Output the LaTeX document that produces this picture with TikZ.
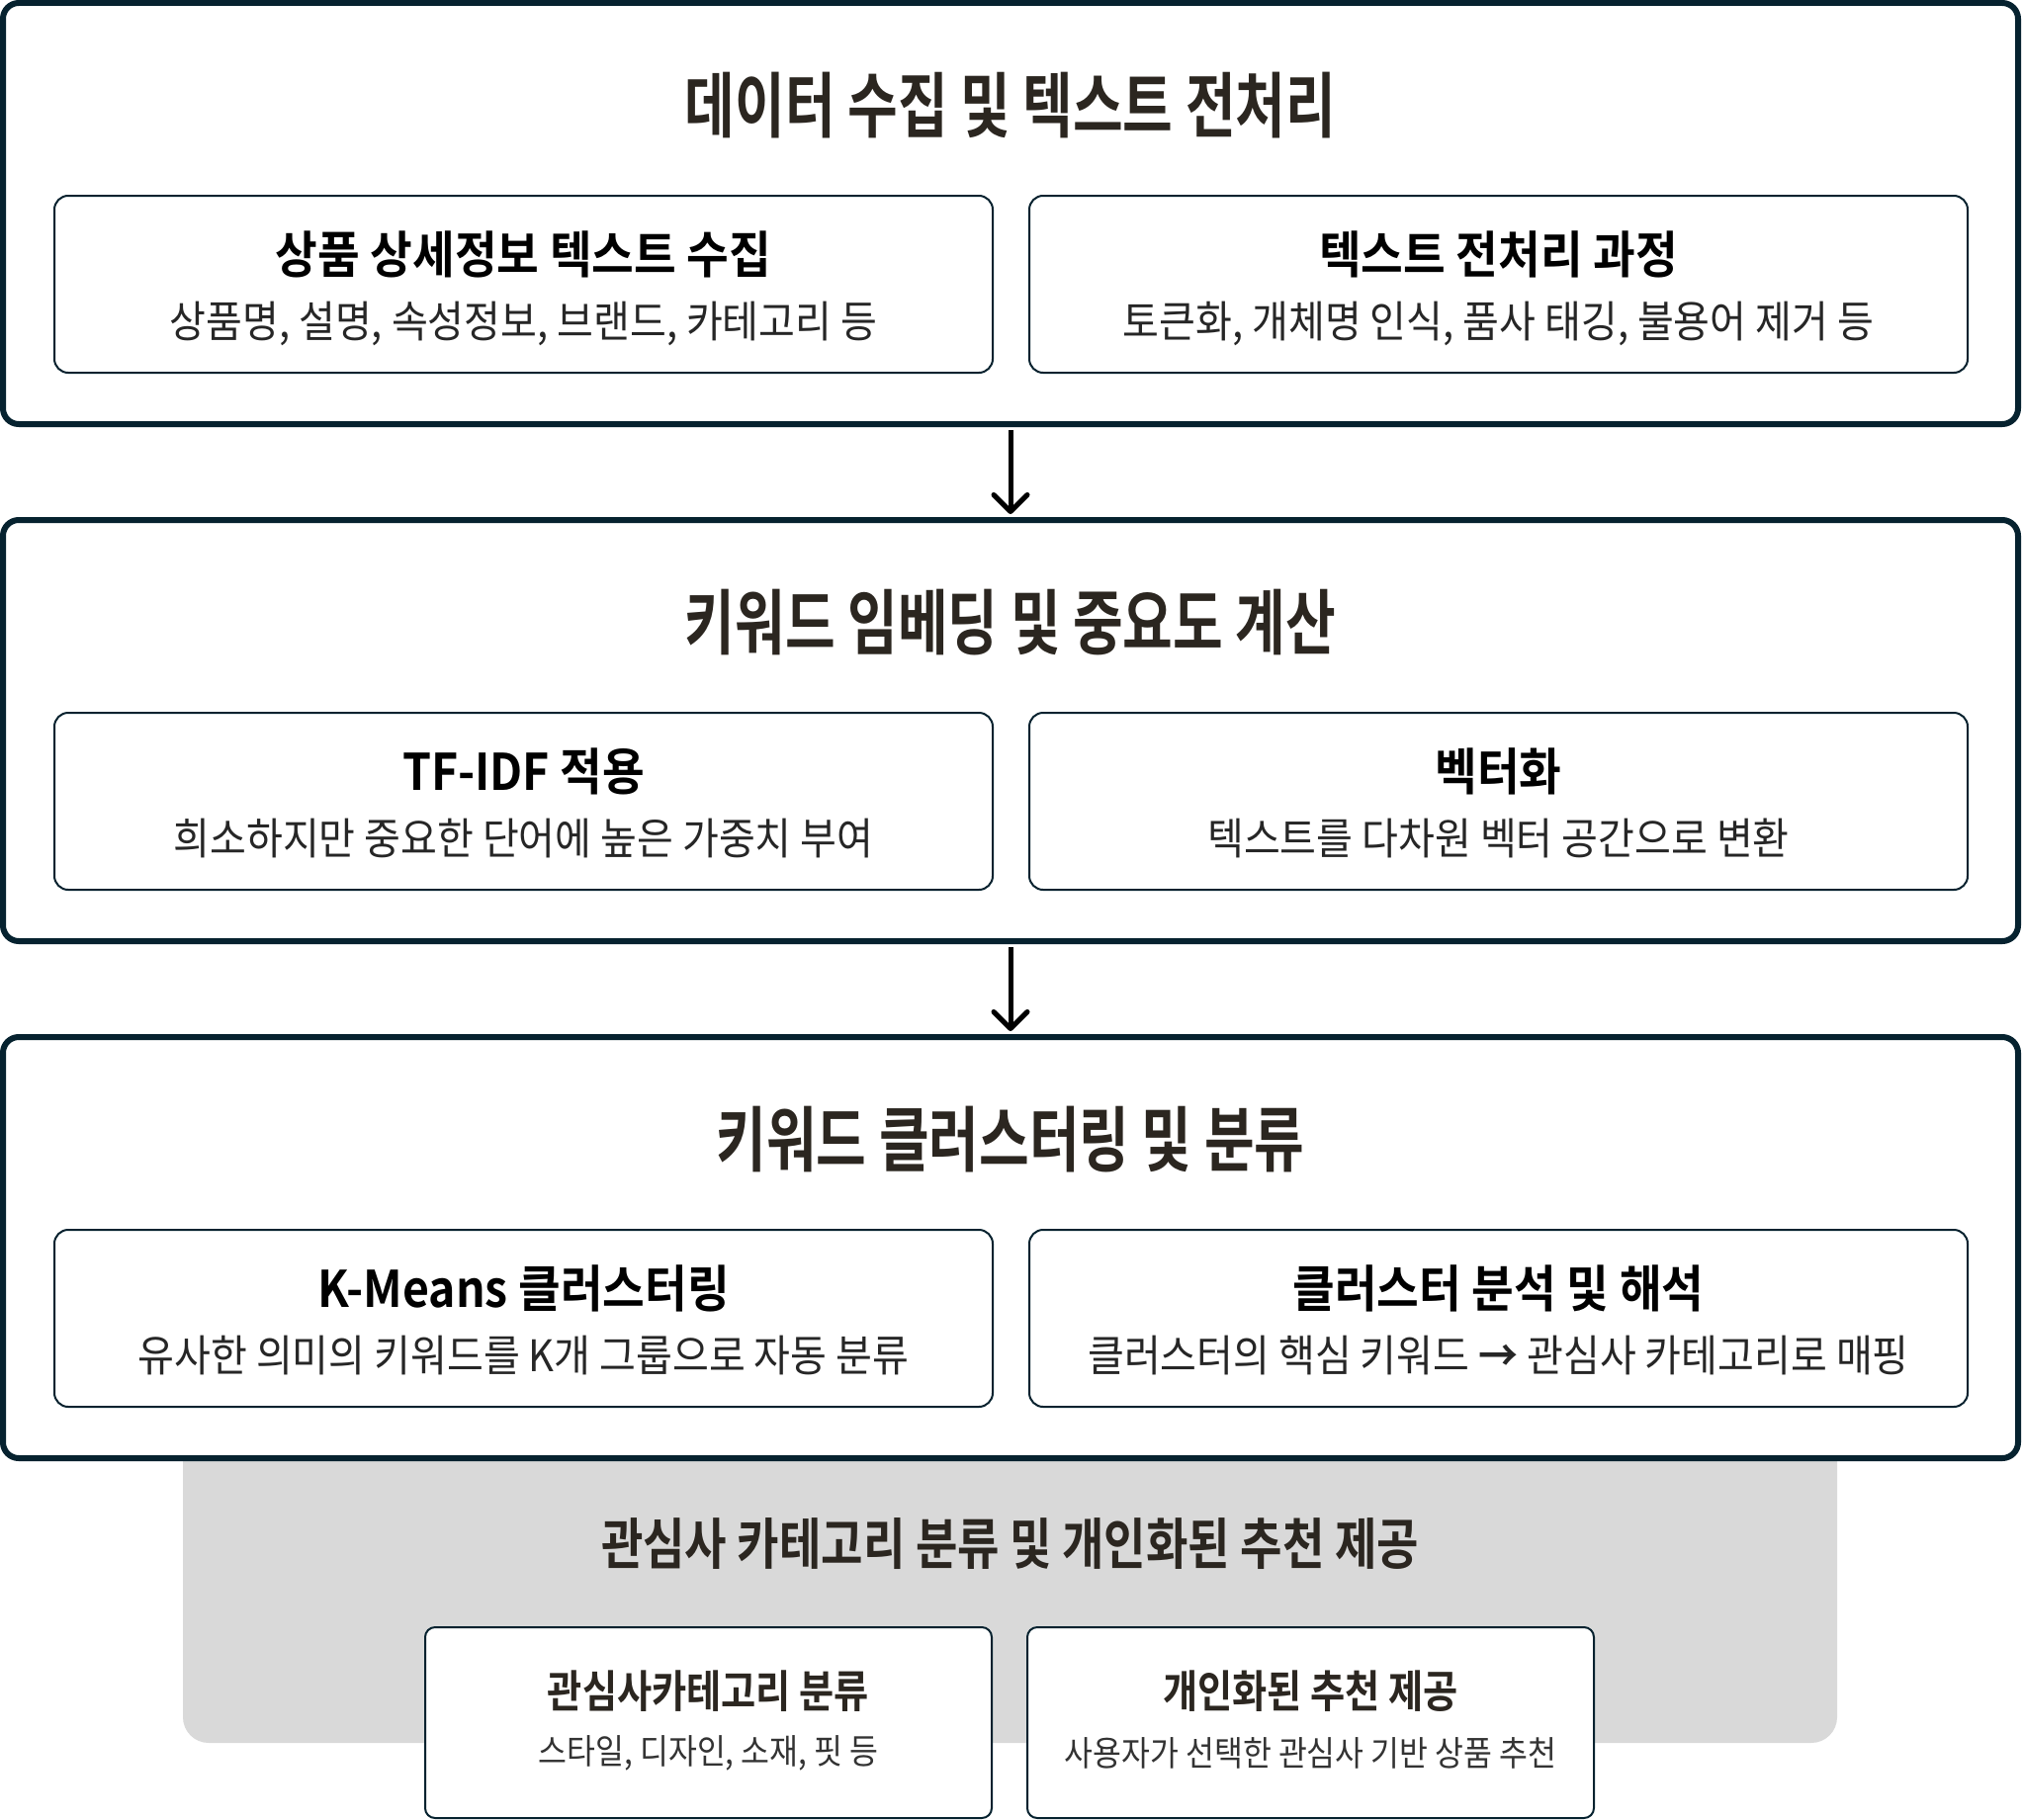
\documentclass[tikz,border=0pt]{standalone}
\usepackage{fontspec}
\usetikzlibrary{arrows.meta}
\setmainfont{Noto Sans CJK KR}
\newfontfamily\headfont[FakeStretch=0.765]{Noto Sans CJK KR Bold}
\newfontfamily\partfont[FakeStretch=0.91]{Noto Sans CJK KR Bold}
\newfontfamily\notefont[FakeStretch=0.91]{Noto Sans CJK KR}
\newfontfamily\lowheadfont[FakeStretch=0.824]{Noto Sans CJK KR Bold}
\newfontfamily\lowpartfont[FakeStretch=0.85]{Noto Sans CJK KR Bold}
\newfontfamily\lownotefont[FakeStretch=0.897]{Noto Sans CJK KR}
\definecolor{framecol}{HTML}{06222F}
\definecolor{ink}{HTML}{2B2620}
\definecolor{panelgray}{HTML}{D9D9D9}

\begin{document}
\begin{tikzpicture}[x=1pt,y=-1pt]
  \tikzset{stage/.style={draw=framecol, line width=6pt, rounded corners=16pt, fill=white,
      minimum width=2038pt, minimum height=426pt, inner sep=0pt},
    part/.style={draw=framecol, line width=2pt, rounded corners=14pt, fill=white,
      minimum width=949pt, minimum height=179pt, inner sep=0pt},
    lowpart/.style={draw=framecol, line width=2pt, rounded corners=10pt, fill=white,
      minimum width=573pt, minimum height=193pt, inner sep=0pt},
    headtext/.style={font=\headfont\fontsize{72}{84}\selectfont, text=ink, inner sep=0pt},
    parttext/.style={font=\partfont\fontsize{51}{60}\selectfont, text=black, inner sep=0pt},
    notetext/.style={font=\notefont\fontsize{44}{52}\selectfont, text=black!85, inner sep=0pt},
    lowhead/.style={font=\lowheadfont\fontsize{56}{66}\selectfont, text=ink, inner sep=0pt},
    lowparttext/.style={font=\lowpartfont\fontsize{45}{54}\selectfont, text=ink, inner sep=0pt},
    lownote/.style={font=\lownotefont\fontsize{35}{42}\selectfont, text=black!80, inner sep=0pt},
    flow/.style={line width=5pt, -{Straight Barb[length=17pt, width=34pt, round]},
      shorten <=3pt, shorten >=3pt}}
  \useasboundingbox (0,0) rectangle (2045,1841);

  % gray panel behind the last stage
  \node[fill=panelgray, rounded corners=26pt, minimum width=1673pt, minimum height=323pt,
    inner sep=0pt] (outcome) at (1021.5,1601.5) {};

  % stage 1
  \node[stage] (collect) at (1022,216) {};
  \node[headtext] (collect-title) at (1022,107) {데이터 수집 및 텍스트 전처리};
  \node[part] (gather) at (529.5,287.5) {};
  \node[parttext] (gather-title) at (529.5,257) {상품 상세정보 텍스트 수집};
  \node[notetext] (gather-note) at (529.5,327) {상품명, 설명, 속성정보, 브랜드, 카테고리 등};
  \node[part] (clean) at (1515.5,287.5) {};
  \node[parttext] (clean-title) at (1515.5,257) {텍스트 전처리 과정};
  \node[notetext] (clean-note) at (1515.5,327) {토큰화, 개체명 인식, 품사 태깅, 불용어 제거 등};

  % stage 2
  \node[stage] (embed) at (1022,739) {};
  \node[headtext] (embed-title) at (1022,630) {키워드 임베딩 및 중요도 계산};
  \node[part] (tfidf) at (529.5,810.5) {};
  \node[parttext] (tfidf-title) at (529.5,780) {TF-IDF 적용};
  \node[notetext] (tfidf-note) at (529.5,848) {희소하지만 중요한 단어에 높은 가중치 부여};
  \node[part] (vector) at (1515.5,810.5) {};
  \node[parttext] (vector-title) at (1515.5,780) {벡터화};
  \node[notetext] (vector-note) at (1515.5,848) {텍스트를 다차원 벡터 공간으로 변환};

  % stage 3
  \node[stage] (cluster) at (1022,1262) {};
  \node[headtext] (cluster-title) at (1022,1153) {키워드 클러스터링 및 분류};
  \node[part] (kmeans) at (529.5,1333.5) {};
  \node[parttext] (kmeans-title) at (529.5,1303) {K-Means 클러스터링};
  \node[notetext] (kmeans-note) at (529.5,1371) {유사한 의미의 키워드를 K개 그룹으로 자동 분류};
  \node[part] (interpret) at (1515.5,1333.5) {};
  \node[parttext] (interpret-title) at (1515.5,1303) {클러스터 분석 및 해석};
  \node[notetext] (interpret-note) at (1515.5,1371) {클러스터의 핵심 키워드 {\partfont →} 관심사 카테고리로 매핑};

  \draw[flow] (collect.south) -- (embed.north);
  \draw[flow] (embed.south) -- (cluster.north);

  % result
  \node[lowhead] (outcome-title) at (1021.5,1562) {관심사 카테고리 분류 및 개인화된 추천 제공};
  \node[lowpart] (classify) at (716.5,1742.5) {};
  \node[lowparttext] (classify-title) at (716.5,1711) {관심사카테고리 분류};
  \node[lownote] (classify-note) at (716.5,1773) {스타일, 디자인, 소재, 핏 등};
  \node[lowpart] (recommend) at (1325.5,1742.5) {};
  \node[lowparttext] (recommend-title) at (1325.5,1711) {개인화된 추천 제공};
  \node[lownote] (recommend-note) at (1325.5,1773) {사용자가 선택한 관심사 기반 상품 추천};
\end{tikzpicture}
\end{document}
